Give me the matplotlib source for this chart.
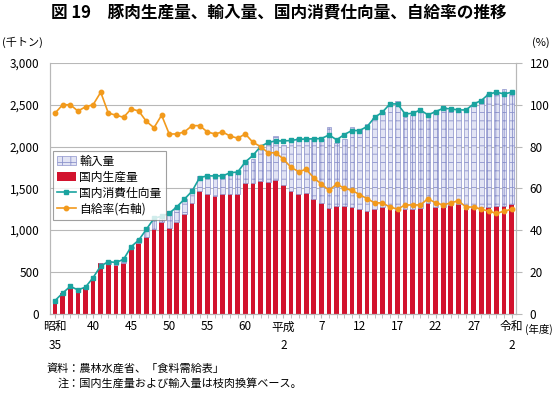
import numpy as np
import matplotlib
matplotlib.use("Agg")
import matplotlib.pyplot as plt

plt.rcParams['font.family'] = ['Noto Sans CJK JP', 'DejaVu Sans']
plt.rcParams['hatch.linewidth'] = 0.6

# fiscal years 昭和35 (1960) .. 令和2 (2020)
production = [149, 240, 322, 271, 314, 431, 603, 597, 582, 609,
              779, 849, 917, 1012, 1095, 1023, 1096, 1189, 1324, 1465,
              1430, 1409, 1427, 1430, 1433, 1559, 1558, 1592, 1577, 1597,
              1536, 1466, 1432, 1438, 1377, 1322, 1264, 1288, 1292, 1276,
              1256, 1231, 1246, 1274, 1263, 1242, 1249, 1246, 1260, 1318,
              1277, 1277, 1295, 1311, 1250, 1268, 1277, 1272, 1282, 1290, 1310]
imports = [6, 0, 0, 8, 0, 0, 0, 28, 35, 44,
           17, 42, 123, 115, 66, 208, 174, 180, 176, 187,
           207, 232, 243, 272, 262, 272, 292, 415, 484, 523,
           488, 631, 667, 650, 724, 772, 964, 754, 803, 953,
           952, 1034, 1101, 1145, 1267, 1298, 1100, 1126, 1150, 1034,
           1143, 1198, 1141, 1113, 1180, 1223, 1290, 1357, 1344, 1400, 1320]
consumption = [155, 245, 325, 283, 316, 430, 570, 620, 612, 648,
               800, 880, 1008, 1140, 1165, 1200, 1278, 1370, 1465, 1628,
               1648, 1648, 1648, 1685, 1695, 1815, 1893, 2000, 2048, 2068,
               2066, 2072, 2086, 2090, 2092, 2095, 2139, 2080, 2143, 2191,
               2191, 2239, 2350, 2410, 2510, 2510, 2390, 2398, 2438, 2378,
               2418, 2458, 2450, 2438, 2438, 2510, 2550, 2630, 2649, 2630, 2649]
rate = [96, 100, 100, 97, 99, 100, 106, 96, 95, 94,
        98, 97, 92, 89, 95, 86, 86, 87, 90, 90,
        87, 86, 87, 85, 84, 86, 82, 80, 77, 77,
        74, 70, 68, 69, 65, 62, 59, 62, 60, 59,
        57, 55, 53, 53, 51, 50, 52, 52, 52, 55,
        53, 52, 53, 54, 51, 51, 50, 49, 48, 49, 50]

tick_pos = [0, 5, 10, 15, 20, 25, 30, 35, 40, 45, 50, 55, 60]
tick_labels = ["昭和\n35", "40", "45", "50", "55", "60", "平成\n2",
               "7", "12", "17", "22", "27", "令和\n2"]

x = np.arange(len(production))
red = '#d2132e'
teal = '#1aa39f'
orange = '#f29a1c'
grid_c = '#b8b8b8'

fig = plt.figure(figsize=(5.58, 3.95), dpi=100)
ax = fig.add_axes([0.0905, 0.2063, 0.834, 0.6342])

b_prod = ax.bar(x, production, width=0.62, color=red, zorder=2)
b_imp = ax.bar(x, imports, width=0.62, bottom=production, facecolor='#e2e4f4',
               edgecolor='#8d93cc', hatch='++', linewidth=0.5, zorder=2)
l_cons, = ax.plot(x, consumption, color=teal, marker='s', markersize=3, lw=1.2,
                  zorder=3)

ax2 = ax.twinx()
l_rate, = ax2.plot(x, rate, color=orange, marker='o', markersize=3.2, lw=1.2,
                   zorder=3)

ax.set_xlim(-0.6, 60.55)
ax.set_ylim(0, 3000)
ax2.set_ylim(0, 120)
ax.set_yticks(np.arange(0, 3001, 500))
ax.set_yticklabels([f"{v:,}" for v in range(0, 3001, 500)])
ax2.set_yticks(np.arange(0, 121, 20))
ax.yaxis.grid(True, color=grid_c, lw=0.8, zorder=0)
ax.set_axisbelow(True)

ax.set_xticks(tick_pos)
ax.set_xticklabels(tick_labels, linespacing=1.6)
ax.set_xticks(x, minor=True)
ax.tick_params(axis='x', which='both', length=3, color=grid_c, labelsize=8.5, pad=2)
ax.tick_params(axis='y', length=0, labelsize=8.5, pad=8)
ax2.tick_params(axis='y', length=4, color=grid_c, labelsize=8.5, pad=6)

for a in (ax, ax2):
    a.spines['top'].set_visible(False)
    for s in ('left', 'right', 'bottom'):
        a.spines[s].set_color(grid_c)

leg = ax2.legend([b_imp, b_prod, l_cons, l_rate],
                 ['輸入量', '国内生産量', '国内消費仕向量', '自給率(右軸)'],
                 loc='upper left', bbox_to_anchor=(0.0, 0.66),
                 fontsize=8.5, frameon=True, fancybox=False, edgecolor='#888888',
                 handlelength=1.6, handletextpad=0.3, borderpad=0.35,
                 labelspacing=0.25, borderaxespad=0.2)
leg.get_frame().set_linewidth(0.8)

fig.text(0.5, 0.968, "図 19　豚肉生産量、輸入量、国内消費仕向量、自給率の推移",
         ha='center', va='center', fontsize=12, fontweight='bold')
fig.text(0.003, 0.893, "(千トン)", ha='left', va='center', fontsize=8)
fig.text(0.985, 0.893, "(%)", ha='right', va='center', fontsize=8)
fig.text(0.94, 0.165, "(年度)", ha='left', va='center', fontsize=7.5)
fig.text(0.083, 0.068, "資料：農林水産省、「食料需給表」", ha='left', va='center', fontsize=8)
fig.text(0.104, 0.03, "注：国内生産量および輸入量は枝肉換算ベース。", ha='left', va='center', fontsize=8)

fig.savefig("out.png", dpi=100)
